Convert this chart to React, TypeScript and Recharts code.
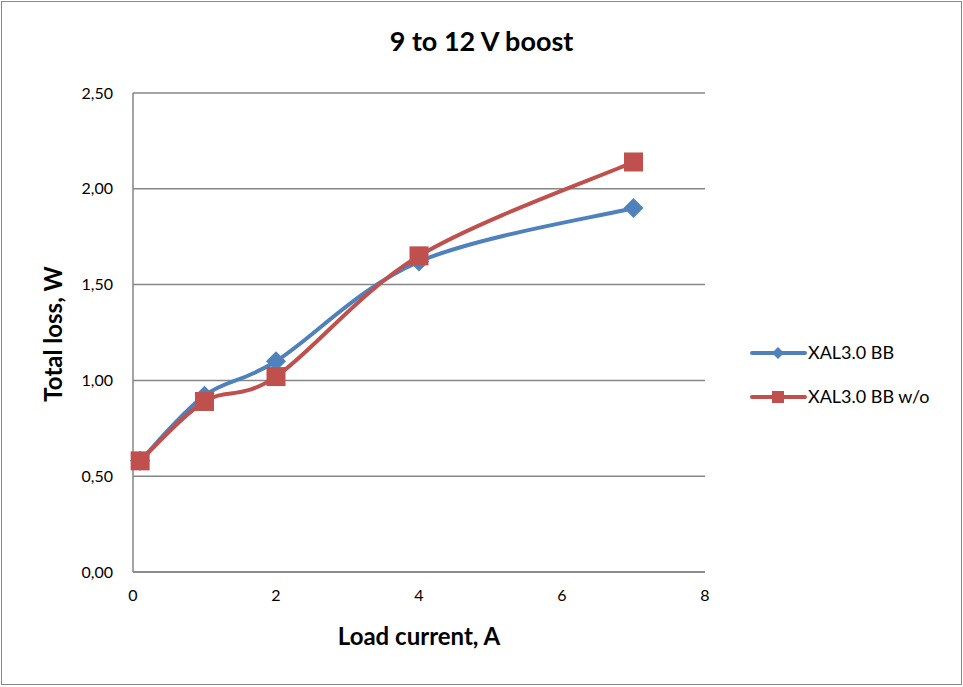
import { LineChart, Line, XAxis, YAxis, CartesianGrid } from "recharts";

const loadCurrent = [0.1, 1, 2, 4, 7];
const lossBB = [0.58, 0.92, 1.1, 1.62, 1.9];
const lossBBwo = [0.58, 0.89, 1.02, 1.65, 2.14];
const xTicks = [0, 2, 4, 6, 8];
const yTicks = [0, 0.5, 1, 1.5, 2, 2.5];

const data = loadCurrent.map((x, i) => ({ x, bb: lossBB[i], bbwo: lossBBwo[i] }));

const BLUE = "#4F81BD";
const RED = "#C0504D";
const GRID = "#868686";
const FONT = "Lato, 'Open Sans', sans-serif";

// excel-like smoothing (catmull-rom style bezier)
function excelSmooth(context: any) {
  let pts: number[][] = [];
  return {
    areaStart() {},
    areaEnd() {},
    lineStart() {
      pts = [];
    },
    point(x: number, y: number) {
      pts.push([+x, +y]);
    },
    lineEnd() {
      if (!pts.length) return;
      context.moveTo(pts[0][0], pts[0][1]);
      for (let i = 0; i < pts.length - 1; i++) {
        const p0 = pts[i - 1] || pts[i];
        const p1 = pts[i];
        const p2 = pts[i + 1];
        const p3 = pts[i + 2] || pts[i + 1];
        context.bezierCurveTo(
          p1[0] + (p2[0] - p0[0]) / 6,
          p1[1] + (p2[1] - p0[1]) / 6,
          p2[0] - (p3[0] - p1[0]) / 6,
          p2[1] - (p3[1] - p1[1]) / 6,
          p2[0],
          p2[1]
        );
      }
    },
  };
}

const Diamond = (props: any) => {
  const { cx, cy } = props;
  const r = 10;
  return <polygon points={`${cx},${cy - r} ${cx + r},${cy} ${cx},${cy + r} ${cx - r},${cy}`} fill={BLUE} />;
};

const Square = (props: any) => {
  const { cx, cy } = props;
  const s = 19;
  return <rect x={cx - s / 2} y={cy - s / 2} width={s} height={s} fill={RED} />;
};

const LegendBox = () => (
  <svg width={212} height={80} style={{ position: "absolute", left: 750, top: 340 }}>
    <line x1={2} y1={13} x2={55} y2={13} stroke={BLUE} strokeWidth={4} strokeLinecap="round" />
    <polygon points="28,7 34,13 28,19 22,13" fill={BLUE} />
    <text x={58} y={19} fontSize={18} fontFamily={FONT} fill="#000">XAL3.0 BB</text>
    <line x1={2} y1={57} x2={55} y2={57} stroke={RED} strokeWidth={4} strokeLinecap="round" />
    <rect x={22} y={51} width={12} height={12} fill={RED} />
    <text x={58} y={63} fontSize={18} fontFamily={FONT} fill="#000">XAL3.0 BB w/o</text>
  </svg>
);

export default function App() {
  return (
    <div style={{ position: "absolute", left: 0, top: 0, width: 963, height: 687, background: "#fff" }}>
      <div style={{ position: "absolute", left: 1, top: 1, width: 959, height: 682, border: "1px solid #888" }} />
      <LineChart width={963} height={687} data={data} margin={{ top: 93, right: 258, left: 0, bottom: 85 }}>
        <CartesianGrid horizontal vertical={false} stroke={GRID} strokeWidth={1.5} />
        <XAxis
          dataKey="x"
          type="number"
          domain={[0, 8]}
          ticks={xTicks}
          height={30}
          tickLine={false}
          axisLine={{ stroke: GRID, strokeWidth: 1.5 }}
          tickMargin={12}
          tick={{ fontSize: 16, fill: "#000", fontFamily: FONT }}
        />
        <YAxis
          type="number"
          domain={[0, 2.5]}
          ticks={yTicks}
          width={133}
          tickLine={false}
          axisLine={{ stroke: GRID, strokeWidth: 1.5 }}
          tickMargin={14}
          tickFormatter={(v: number) => v.toFixed(2).replace(".", ",")}
          tick={{ fontSize: 16, fill: "#000", fontFamily: FONT }}
        />
        <Line
          dataKey="bb"
          name="XAL3.0 BB"
          type={excelSmooth as any}
          stroke={BLUE}
          strokeWidth={4}
          dot={<Diamond />}
          activeDot={false}
          isAnimationActive={false}
        />
        <Line
          dataKey="bbwo"
          name="XAL3.0 BB w/o"
          type={excelSmooth as any}
          stroke={RED}
          strokeWidth={4}
          dot={<Square />}
          activeDot={false}
          isAnimationActive={false}
        />
      </LineChart>
      <LegendBox />
      <div
        style={{
          position: "absolute",
          left: 0,
          width: 963,
          top: 25,
          textAlign: "center",
          fontFamily: FONT,
          fontWeight: 700,
          fontSize: 27,
          lineHeight: "32px",
        }}
      >
        9 to 12 V boost
      </div>
      <div
        style={{
          position: "absolute",
          left: 219,
          width: 400,
          top: 622,
          textAlign: "center",
          fontFamily: FONT,
          fontWeight: 700,
          fontSize: 24,
          lineHeight: "28px",
        }}
      >
        Load current, A
      </div>
      <div
        style={{
          position: "absolute",
          left: 53 - 100,
          top: 334 - 14,
          width: 200,
          textAlign: "center",
          transform: "rotate(-90deg)",
          fontFamily: FONT,
          fontWeight: 700,
          fontSize: 24,
          lineHeight: "28px",
        }}
      >
        Total loss, W
      </div>
    </div>
  );
}
